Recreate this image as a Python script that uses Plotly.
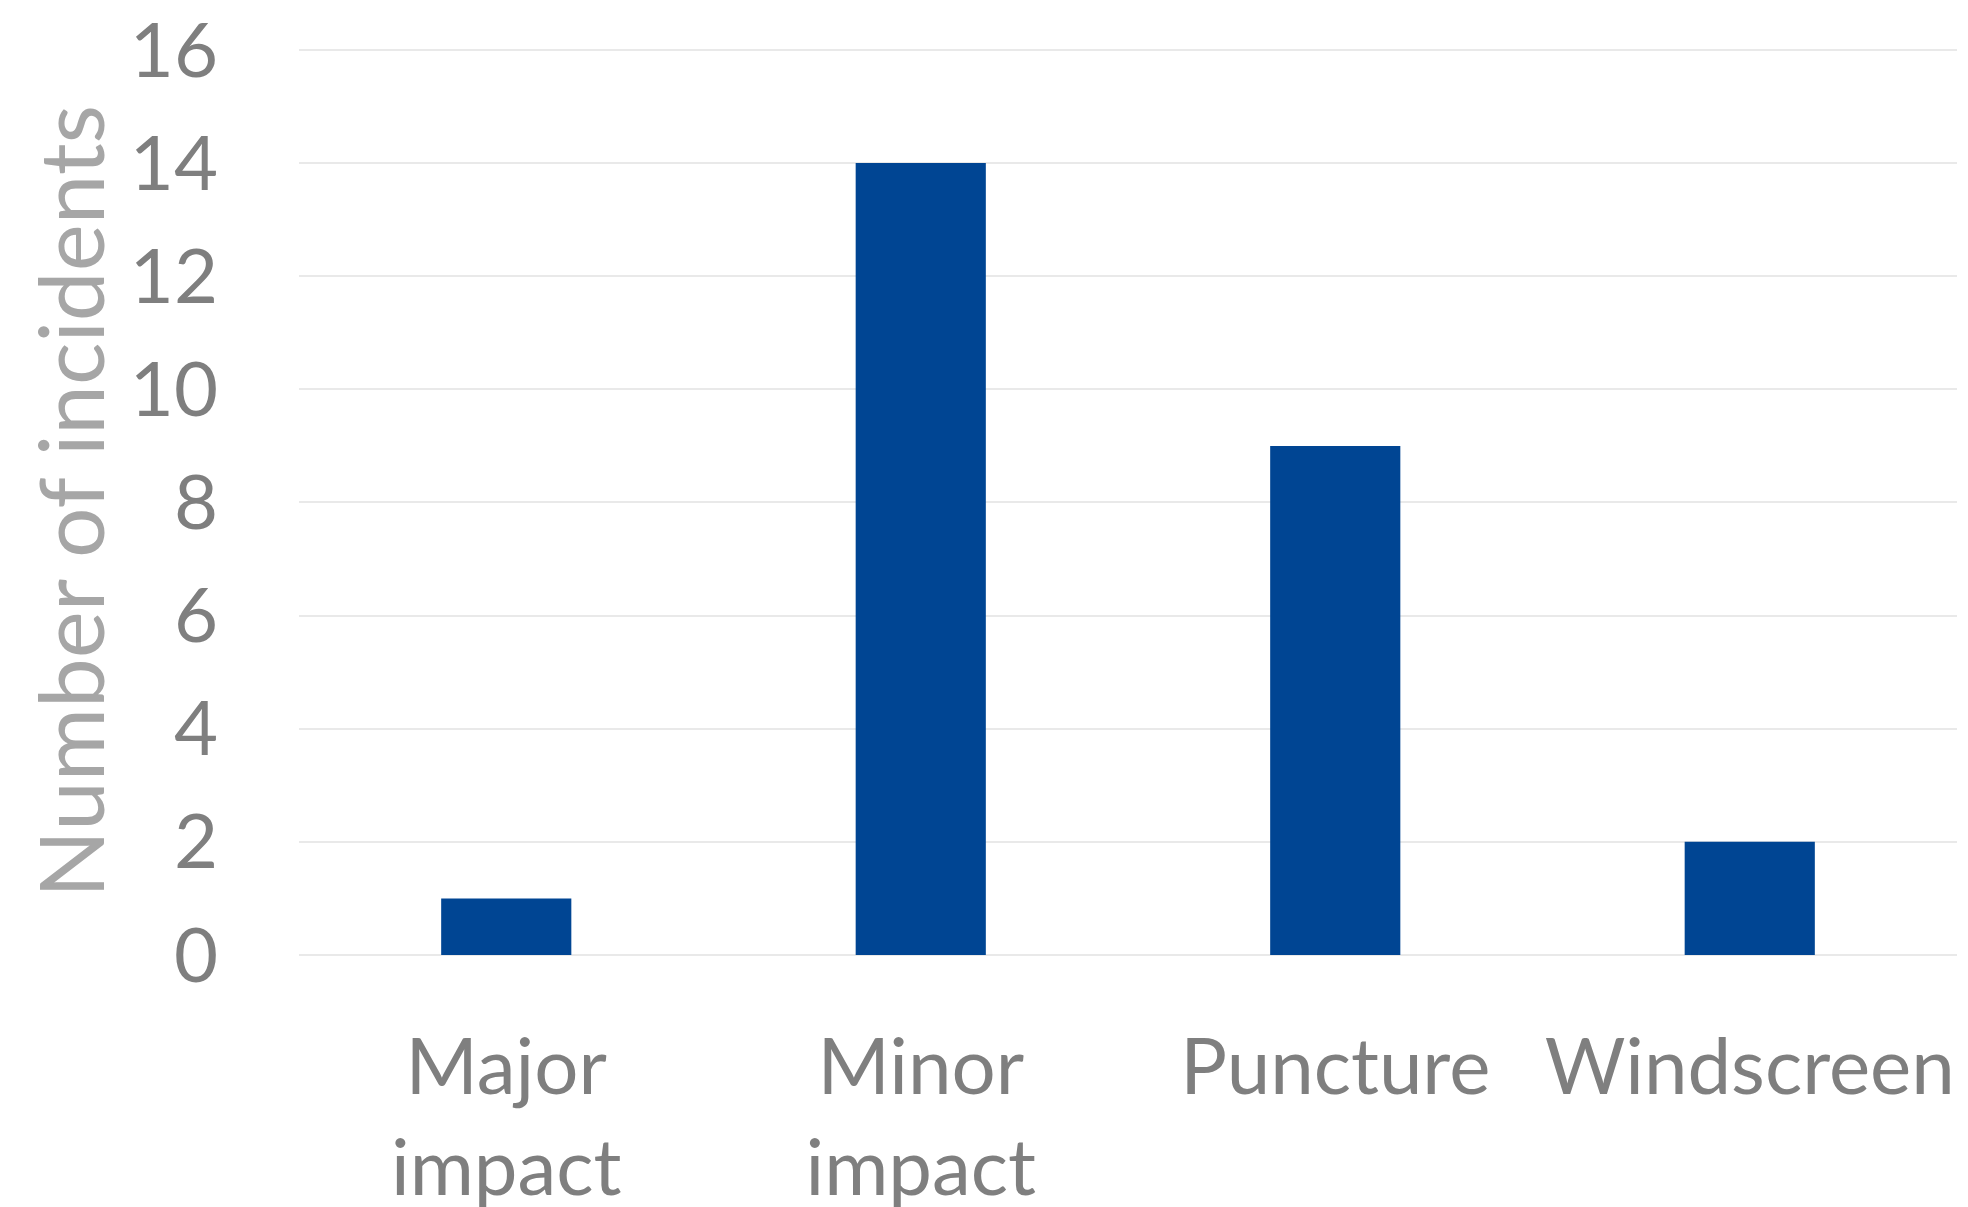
import plotly.graph_objects as go

categories = ["Major<br>impact", "Minor<br>impact", "Puncture", "Windscreen"]
incidents = [1, 14, 9, 2]
y_ticks = [0, 2, 4, 6, 8, 10, 12, 14, 16]

W, H = 1968, 1207
L, R, T, B = 299, 11, 46, 252

fig = go.Figure(
    go.Bar(
        x=categories,
        y=incidents,
        marker=dict(color="#004593", line=dict(width=0)),
        width=0.314,
    )
)

font_family = "Lato, Open Sans, sans-serif"

fig.update_layout(
    width=W,
    height=H,
    margin=dict(l=L, r=R, t=T, b=B, pad=0),
    paper_bgcolor="white",
    plot_bgcolor="white",
    showlegend=False,
    font=dict(family=font_family, color="#7f7f7f"),
    xaxis=dict(
        automargin=False,
        showgrid=False,
        showline=False,
        zeroline=False,
        ticks="",
        tickfont=dict(size=78, color="#7f7f7f"),
        ticklabelstandoff=60,
    ),
    yaxis=dict(
        automargin=False,
        range=[0, 16.07],
        tickvals=y_ticks,
        ticktext=[str(v) for v in y_ticks],
        showgrid=True,
        gridcolor="#e9e9e9",
        gridwidth=2,
        zeroline=True,
        zerolinecolor="#e9e9e9",
        zerolinewidth=2,
        showline=False,
        ticks="",
        tickfont=dict(size=76, color="#7f7f7f"),
        ticklabelstandoff=80,
    ),
    annotations=[
        dict(
            text="Number of incidents",
            textangle=-90,
            xref="paper",
            yref="paper",
            x=(69 - L) / (W - L - R),
            y=(502 - (H - B)) / (T - (H - B)),
            xanchor="center",
            yanchor="middle",
            showarrow=False,
            font=dict(size=89, color="#a6a6a6", family=font_family),
        )
    ],
)

fig.write_html("out.html")
